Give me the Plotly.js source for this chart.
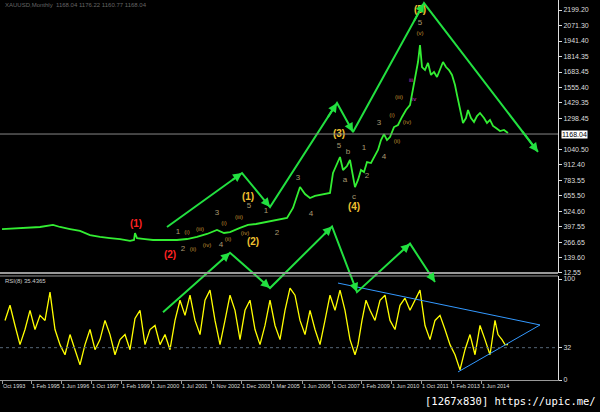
<!DOCTYPE html>
<html><head><meta charset="utf-8">
<script src="https://cdn.plot.ly/plotly-3.0.1.min.js"></script>
<style>html,body{margin:0;padding:0;background:#000;}#c{width:600px;height:412px;}</style>
</head><body><div id="c"></div>
<script>
// bar index (chart position) and monthly gold closes
const priceX = [2,20,40,53,60,70,80,90,100,110,120,130,134,135,137,145,153,165,177,187,197,207,217,224,230,240,248,256,267,277,287,293,297,300,305,310,315,320,325,330,333,337,340,343,347,350,353,355,358,361,364,367,371,374,378,381,384,387,390,394,398,402,406,410,413,416,418,420,422,425,428,431,434,437,440,443,446,449,452,455,457,460,463,466,468,471,474,477,480,484,487,490,493,496,500,504,508];
const priceClose = [378,386,395,412,395,378,362,328,312,303,295,279,287,345,303,295,287,287,287,295,312,337,370,345,353,387,412,420,437,453,470,553,644,727,669,636,653,661,669,678,844,927,977,869,902,952,802,727,786,869,852,935,927,969,1035,1118,1168,1118,1143,1226,1243,1310,1368,1409,1534,1659,1767,1908,1725,1700,1759,1659,1684,1642,1700,1767,1725,1700,1659,1576,1493,1368,1260,1301,1368,1301,1268,1318,1343,1301,1260,1285,1235,1218,1193,1202,1177];
const rsiX = [5,10,15,20,25,30,35,40,45,50,55,60,65,70,75,80,85,90,95,100,105,110,115,120,125,130,135,140,145,150,155,160,165,170,175,180,185,190,195,200,205,210,215,220,225,230,235,240,245,250,255,260,265,270,275,280,285,290,295,300,305,310,315,320,325,330,335,340,345,350,355,358,362,366,370,375,380,385,390,395,400,405,410,415,420,425,430,435,440,445,450,455,460,465,470,475,480,485,490,495,498,502,505,508];
const rsiVal = [59,74,54,35,50,69,50,64,59,87,50,35,25,45,30,15,35,50,30,40,59,45,25,40,45,30,61,69,35,50,54,35,45,30,59,79,64,84,59,45,79,89,59,35,59,84,69,40,69,79,50,35,54,79,54,40,69,91,84,59,45,69,50,35,59,84,69,89,69,40,25,35,59,79,69,59,79,84,59,50,74,81,69,79,89,54,40,59,64,50,35,25,10,30,45,25,54,40,25,59,45,40,35,35];
// tick labels
const xTickPos = [2,31,61,91,121,151,181,211,241,271,302,332,361,391,421,451,481];
const xTickText = ["Oct 1993","1 Feb 1995","1 Jun 1996","1 Oct 1997","1 Feb 1999","1 Jun 2000","1 Jul 2001","1 Nov 2002","1 Dec 2003","1 Mar 2005","1 Jun 2006","1 Oct 2007","1 Feb 2009","1 Jun 2010","1 Oct 2011","1 Feb 2013","1 Jun 2014"];
const priceTicks = [2199.20,2071.30,1941.40,1814.35,1683.45,1555.40,1429.35,1298.45,1040.50,912.40,783.55,655.50,524.60,397.55,266.65,139.60,12.55];
const rsiTicks = [100,32,0];
const lastPrice = 1168.04;
// drawn analysis lines
const upZigX = [167,242,270,337,353,424,538];
const upZigP = [395,844,561,1426,1185,2257,1019];
const loZigX = [163,230,270,332,357,410,435];
const loZigV = [67,126,91,152,87,135,97];
const triUpX = [338,540], triUpV = [96,54.5];
const triLoX = [458,540], triLoV = [8,54.5];
// wave labels
const labX = [136,170,248,249,253,178,187,200,217,224,183,193,207,221,228,239,245,266,277,339,339,348,345,364,367,354,354,298,311,379,384,392,397,399,407,420,420,420,411,414];
const labP = [412,154,644,570,262,353,353,378,511,428,212,212,245,245,287,470,345,528,345,1168,1068,1019,786,1052,819,644,561,802,503,1260,977,1318,1102,1468,1260,2191,2091,2008,1617,1451];
const labT = ["(1)","(2)","(1)","5","(2)","1","(i)","(iii)","3","(i)","2","(ii)","(iv)","4","(ii)","(iii)","(iv)","1","2","(3)","5","b","a","1","2","c","(4)","3","4","3","4","(i)","(ii)","(iii)","(iv)","(5)","5","(v)","iii","iv"];
const labKind = ["R","R","Y","s","Y","s","o","o","s","o","s","o","o","s","o","o","o","s","s","Y","s","s","s","s","s","s","Y","s","s","s","s","o","o","o","o","Y","s","o","m","m"];

const kindColor = {R:"#ff2222",Y:"#f0c030",s:"#a89a70",o:"#c09030",m:"#d030d0"};
const kindSize = {R:10,Y:10,s:8,o:6,m:6};

const G = "#22e040";
const traces = [
 {x:priceX,y:priceClose,type:"scatter",mode:"lines",line:{color:"#33ee33",width:1.8},xaxis:"x",yaxis:"y",hoverinfo:"skip"},
 {x:rsiX,y:rsiVal,type:"scatter",mode:"lines",line:{color:"#ffff00",width:1.3},xaxis:"x",yaxis:"y2",hoverinfo:"skip"},
 {x:triUpX,y:triUpV,type:"scatter",mode:"lines",line:{color:"#3399ff",width:1},xaxis:"x",yaxis:"y2"},
 {x:triLoX,y:triLoV,type:"scatter",mode:"lines",line:{color:"#3399ff",width:1},xaxis:"x",yaxis:"y2"},
 {x:upZigX,y:upZigP,type:"scatter",mode:"lines",line:{color:G,width:2},xaxis:"x",yaxis:"y"},
 {x:loZigX,y:loZigV,type:"scatter",mode:"lines",line:{color:G,width:2},xaxis:"x",yaxis:"y3"},
 {x:labX,y:labP,text:labT.map((t,i)=>labKind[i]==="R"||labKind[i]==="Y"?"<b>"+t+"</b>":t),type:"scatter",mode:"text",
  textfont:{color:labKind.map(k=>kindColor[k]),size:labKind.map(k=>kindSize[k]),family:"Liberation Sans, Arial"},
  cliponaxis:false,xaxis:"x",yaxis:"y"}
];

const ann = [];
function arrowTo(xs,ys,i,yref){
  const x0=xs[i-1],y0=ys[i-1],x1=xs[i],y1=ys[i];
  ann.push({x:x1,y:y1,xref:"x",yref:yref,ax:x1-(x1-x0)*0.15,ay:y1-(y1-y0)*0.15,axref:"x",ayref:yref,
    text:"",showarrow:true,arrowhead:2,arrowsize:0.9,arrowwidth:2,arrowcolor:G});
}
for(let i=1;i<upZigX.length;i++) arrowTo(upZigX,upZigP,i,"y");
for(let i=1;i<loZigX.length;i++) arrowTo(loZigX,loZigV,i,"y3");
ann.push({xref:"paper",yref:"y",x:1,y:lastPrice,xanchor:"left",yanchor:"middle",text:lastPrice.toFixed(2),showarrow:false,
  bgcolor:"#ffffff",font:{color:"#000",size:7,family:"Liberation Sans, Arial"},borderpad:0,xshift:3});
ann.push({xref:"paper",yref:"paper",x:0.005,y:1,xanchor:"left",yanchor:"top",text:"XAUUSD,Monthly  1168.04 1176.22 1160.77 1168.04",
  showarrow:false,font:{color:"#666",size:6,family:"Liberation Sans, Arial"}});
ann.push({xref:"paper",yref:"paper",x:0.005,y:0.2737,xanchor:"left",yanchor:"top",text:"RSI(8) 35.4365",
  showarrow:false,font:{color:"#ccc",size:6,family:"Liberation Sans, Arial"}});
ann.push({xref:"paper",yref:"paper",x:1.072,y:-0.035,xanchor:"right",yanchor:"top",text:"[1267x830] https://upic.me/",
  showarrow:false,font:{color:"#fff",size:10.5,family:"DejaVu Sans Mono, monospace"}});

const axFont = {color:"#ddd",size:7,family:"Liberation Sans, Arial"};
const layout = {
  width:600,height:412,margin:{l:0,r:42,t:0,b:32},
  paper_bgcolor:"#000",plot_bgcolor:"rgba(0,0,0,0)",showlegend:false,
  xaxis:{range:[0,558],anchor:"y2",tickvals:xTickPos,ticktext:xTickText,ticklabelposition:"outside right",tickangle:0,
    ticks:"outside",ticklen:3,tickcolor:"#999",tickfont:{color:"#ddd",size:5.5,family:"Liberation Sans, Arial"},
    showgrid:false,zeroline:false,showline:true,linecolor:"#999",linewidth:1},
  yaxis:{domain:[0.2816,1],range:[12.55,2282.4],side:"right",anchor:"x",tickvals:priceTicks,ticktext:priceTicks.map(v=>v.toFixed(2)),
    ticks:"outside",ticklen:3,tickcolor:"#ddd",tickfont:axFont,showgrid:false,zeroline:false,showline:true,linecolor:"#ddd"},
  yaxis2:{domain:[0,0.2737],range:[0,103],side:"right",anchor:"x",tickvals:rsiTicks,ticktext:rsiTicks.map(String),
    ticks:"outside",ticklen:3,tickcolor:"#ddd",tickfont:axFont,showgrid:false,zeroline:false,showline:true,linecolor:"#ddd"},
  yaxis3:{domain:[0,1],range:[0,376.2],anchor:"x",visible:false,showgrid:false,zeroline:false},
  shapes:[
    {type:"line",xref:"paper",yref:"y",x0:0,x1:1,y0:lastPrice,y1:lastPrice,line:{color:"#888",width:1}},
    {type:"line",xref:"paper",yref:"paper",x0:0,x1:1,y0:0.2816,y1:0.2816,line:{color:"#999",width:2}},
    {type:"line",xref:"paper",yref:"paper",x0:0,x1:1,y0:0.2737,y1:0.2737,line:{color:"#999",width:1}},
    {type:"line",xref:"paper",yref:"y2",x0:0,x1:1,y0:32,y1:32,line:{color:"#556677",width:1,dash:"dot"}}
  ],
  annotations:ann
};
Plotly.newPlot("c",traces,layout,{staticPlot:true,displayModeBar:false});
</script></body></html>
